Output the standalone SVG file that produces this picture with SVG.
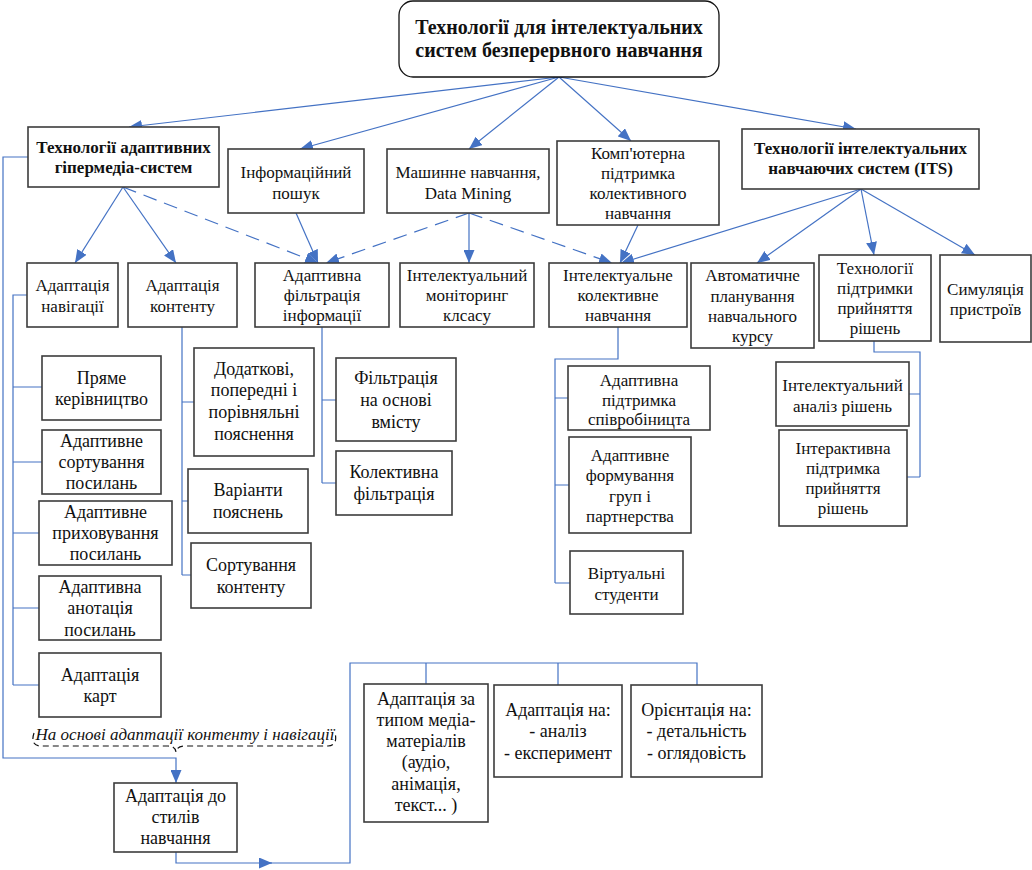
<svg xmlns="http://www.w3.org/2000/svg" width="1032" height="870" viewBox="0 0 1032 870">
<style>
.b{fill:#fff;stroke:#3c3c3c;stroke-width:1.6}
.r{fill:#fff;stroke:#111;stroke-width:1.3}
.t{font-family:"Liberation Serif","Times New Roman",serif;font-size:17px;fill:#111;text-anchor:middle}
.s{font-family:"Liberation Serif","Times New Roman",serif;font-size:18px;fill:#111;text-anchor:middle}
.tb{font-family:"Liberation Serif","Times New Roman",serif;font-size:17px;font-weight:bold;fill:#111;text-anchor:middle}
.tt{font-family:"Liberation Serif","Times New Roman",serif;font-size:20px;font-weight:bold;fill:#111;text-anchor:middle}
.ti{font-family:"Liberation Serif","Times New Roman",serif;font-size:17px;font-style:italic;fill:#111;text-anchor:middle}
.c{fill:none;stroke:#4472C4;stroke-width:1.2}
.ca{fill:none;stroke:#4472C4;stroke-width:1.2;marker-end:url(#ah)}
.cd{fill:none;stroke:#4472C4;stroke-width:1.2;stroke-dasharray:14,8;marker-end:url(#ah)}
.br{fill:none;stroke:#111;stroke-width:1.2;stroke-dasharray:6,4}
</style>
<defs>
<marker id="ah" markerUnits="userSpaceOnUse" markerWidth="13" markerHeight="11" refX="13" refY="5.5" orient="auto">
<path d="M0,0 L13,5.5 L0,11 z" fill="#4472C4"/>
</marker>
</defs>
<rect width="1032" height="870" fill="#fff"/>
<g id="connectors">
<path class="ca" d="M559,77 L129,127"/>
<path class="ca" d="M559,77 L300,149"/>
<path class="ca" d="M559,77 L469,149"/>
<path class="ca" d="M559,77 L631,141"/>
<path class="ca" d="M559,77 L856,129"/>
<path class="ca" d="M123,187 L75,263"/>
<path class="ca" d="M123,187 L176,263"/>
<path class="cd" d="M123,187 L318,263"/>
<path class="ca" d="M296,213 L318,263"/>
<path class="cd" d="M469,213 L326,263"/>
<path class="ca" d="M469,213 L469,263"/>
<path class="cd" d="M469,213 L612,263"/>
<path class="ca" d="M638,225 L620,263"/>
<path class="ca" d="M861,189 L621,263"/>
<path class="ca" d="M861,189 L757,263"/>
<path class="ca" d="M861,189 L874,255"/>
<path class="ca" d="M861,189 L975,255"/>
<path class="c" d="M27,295 H13 V685 M13,387 H42 M13,462 H42 M13,533 H39 M13,608 H39 M13,685 H39"/>
<path class="ca" d="M28,157 H3 V758 H176 V783"/>
<path class="c" d="M182,327 V575 M182,402 H194 M182,501 H188 M182,575 H191"/>
<path class="c" d="M322,327 V483 M322,400 H336 M322,483 H336"/>
<path class="c" d="M618,327 V359 H555 V583 M555,398 H568 M555,485 H569 M555,583 H570"/>
<path class="c" d="M874,341 V352 H920 V477 M920,394 H909 M920,477 H907"/>
<path class="ca" d="M176,852 V863 H272"/>
<path class="c" d="M268,863 H350 V663 H697 V685 M426,663 V684 M558,663 V685"/>
</g>
<g id="brace">
<path class="br" d="M34,733 Q30,745 40,746 H168 Q175,746 176,752 Q177,746 184,746 H328 Q338,745 335,733"/>
<text class="ti" x="185" y="740">На основі адаптації контенту і навігації</text>
</g>
<g id="root"><rect class="r" x="399" y="1" width="320" height="76" rx="14"/>
<text class="tt" x="559" y="34">Технології для інтелектуальних</text><text class="tt" x="559" y="57">систем безперервного навчання</text></g>
<g id="n_ahs"><rect class="b" x="28" y="127" width="191" height="60"/>
<text class="tb" x="123.5" y="153">Технології адаптивних</text><text class="tb" x="123.5" y="173">гіпермедіа-систем</text></g>
<g id="n_info"><rect class="b" x="228" y="149" width="136" height="64"/>
<text class="t" x="296" y="178">Інформаційний</text><text class="t" x="296" y="199">пошук</text></g>
<g id="n_ml"><rect class="b" x="387" y="149" width="162" height="64"/>
<text class="t" x="468" y="178">Машинне навчання,</text><text class="t" x="468" y="199">Data Mining</text></g>
<g id="n_comp"><rect class="b" x="557" y="141" width="162" height="84"/>
<text class="t" x="638" y="159">Комп'ютерна</text><text class="t" x="638" y="179">підтримка</text><text class="t" x="638" y="199">колективного</text><text class="t" x="638" y="219">навчання</text></g>
<g id="n_its"><rect class="b" x="742" y="129" width="237" height="60"/>
<text class="tb" x="860.5" y="154">Технології інтелектуальних</text><text class="tb" x="860.5" y="174">навчаючих систем (ITS)</text></g>
<g id="n_nav"><rect class="b" x="27" y="263" width="91" height="64"/>
<text class="t" x="72.5" y="291">Адаптація</text><text class="t" x="72.5" y="312">навігації</text></g>
<g id="n_cont"><rect class="b" x="128" y="263" width="109" height="64"/>
<text class="t" x="182.5" y="291">Адаптація</text><text class="t" x="182.5" y="312">контенту</text></g>
<g id="n_filt"><rect class="b" x="255" y="263" width="134" height="64"/>
<text class="t" x="322" y="281">Адаптивна</text><text class="t" x="322" y="301">фільтрація</text><text class="t" x="322" y="321">інформації</text></g>
<g id="n_mon"><rect class="b" x="400" y="263" width="134" height="64"/>
<text class="t" x="467" y="281">Інтелектуальний</text><text class="t" x="467" y="301">моніторинг</text><text class="t" x="467" y="321">клсасу</text></g>
<g id="n_coll"><rect class="b" x="549" y="263" width="138" height="64"/>
<text class="t" x="618" y="281">Інтелектуальне</text><text class="t" x="618" y="301">колективне</text><text class="t" x="618" y="321">навчання</text></g>
<g id="n_plan"><rect class="b" x="691" y="263" width="123" height="85"/>
<text class="t" x="752.5" y="281">Автоматичне</text><text class="t" x="752.5" y="302">планування</text><text class="t" x="752.5" y="322">навчального</text><text class="t" x="752.5" y="342">курсу</text></g>
<g id="n_dss"><rect class="b" x="819" y="255" width="112" height="86"/>
<text class="t" x="875" y="274">Технології</text><text class="t" x="875" y="294">підтримки</text><text class="t" x="875" y="314">прийняття</text><text class="t" x="875" y="334">рішень</text></g>
<g id="n_sim"><rect class="b" x="940" y="255" width="91" height="87"/>
<text class="t" x="985.5" y="295">Симуляція</text><text class="t" x="985.5" y="315">пристроїв</text></g>
<g id="n_direct"><rect class="b" x="42" y="356" width="119" height="64"/>
<text class="s" x="101.5" y="384">Пряме</text><text class="s" x="101.5" y="405">керівництво</text></g>
<g id="n_sort"><rect class="b" x="42" y="430" width="119" height="64"/>
<text class="s" x="101.5" y="447">Адаптивне</text><text class="s" x="101.5" y="468">сортування</text><text class="s" x="101.5" y="489">посилань</text></g>
<g id="n_hide"><rect class="b" x="39" y="501" width="133" height="64"/>
<text class="s" x="105.5" y="518">Адаптивне</text><text class="s" x="105.5" y="539">приховування</text><text class="s" x="105.5" y="560">посилань</text></g>
<g id="n_annot"><rect class="b" x="39" y="576" width="122" height="64"/>
<text class="s" x="100" y="593">Адаптивна</text><text class="s" x="100" y="614">анотація</text><text class="s" x="100" y="636">посилань</text></g>
<g id="n_maps"><rect class="b" x="39" y="653" width="122" height="64"/>
<text class="s" x="100" y="681">Адаптація</text><text class="s" x="100" y="702">карт</text></g>
<g id="n_expl"><rect class="b" x="194" y="348" width="120" height="108"/>
<text class="s" x="254" y="375">Додаткові,</text><text class="s" x="254" y="396">попередні і</text><text class="s" x="254" y="418">порівняльні</text><text class="s" x="254" y="440">пояснення</text></g>
<g id="n_var"><rect class="b" x="188" y="469" width="120" height="64"/>
<text class="s" x="248" y="496">Варіанти</text><text class="s" x="248" y="518">пояснень</text></g>
<g id="n_csort"><rect class="b" x="191" y="543" width="120" height="65"/>
<text class="s" x="251" y="571">Сортування</text><text class="s" x="251" y="593">контенту</text></g>
<g id="n_cbf"><rect class="b" x="336" y="358" width="120" height="83"/>
<text class="s" x="396" y="384">Фільтрація</text><text class="s" x="396" y="406">на основі</text><text class="s" x="396" y="428">вмісту</text></g>
<g id="n_cf"><rect class="b" x="336" y="451" width="116" height="64"/>
<text class="s" x="394" y="478">Колективна</text><text class="s" x="394" y="500">фільтрація</text></g>
<g id="n_coop"><rect class="b" x="568" y="366" width="142" height="64"/>
<text class="t" x="639" y="386">Адаптивна</text><text class="t" x="639" y="406">підтримка</text><text class="t" x="639" y="425">співробіницта</text></g>
<g id="n_groups"><rect class="b" x="569" y="437" width="122" height="96"/>
<text class="t" x="630" y="461">Адаптивне</text><text class="t" x="630" y="481">формування</text><text class="t" x="630" y="502">груп і</text><text class="t" x="630" y="522">партнерства</text></g>
<g id="n_virt"><rect class="b" x="570" y="551" width="113" height="63"/>
<text class="t" x="626.5" y="579">Віртуальні</text><text class="t" x="626.5" y="600">студенти</text></g>
<g id="n_anal"><rect class="b" x="776" y="362" width="133" height="64"/>
<text class="t" x="842.5" y="391">Інтелектуальний</text><text class="t" x="842.5" y="412">аналіз рішень</text></g>
<g id="n_inter"><rect class="b" x="779" y="430" width="128" height="96"/>
<text class="t" x="843" y="454">Інтерактивна</text><text class="t" x="843" y="474">підтримка</text><text class="t" x="843" y="494">прийняття</text><text class="t" x="843" y="514">рішень</text></g>
<g id="n_styles"><rect class="b" x="114" y="783" width="123" height="69"/>
<text class="s" x="175.5" y="802">Адаптація до</text><text class="s" x="175.5" y="823">стилів</text><text class="s" x="175.5" y="844">навчання</text></g>
<g id="n_media"><rect class="b" x="364" y="684" width="124" height="138"/>
<text class="s" x="426" y="705">Адаптація за</text><text class="s" x="426" y="726">типом медіа-</text><text class="s" x="426" y="747">матеріалів</text><text class="s" x="426" y="768">(аудіо,</text><text class="s" x="426" y="790">анімація,</text><text class="s" x="426" y="811">текст... )</text></g>
<g id="n_an"><rect class="b" x="494" y="685" width="128" height="92"/>
<text class="s" x="558" y="716">Адаптація на:</text><text class="s" x="558" y="737">- аналіз</text><text class="s" x="558" y="759">- експеримент</text></g>
<g id="n_or"><rect class="b" x="631" y="685" width="131" height="92"/>
<text class="s" x="696.5" y="716">Орієнтація на:</text><text class="s" x="696.5" y="737">- детальність</text><text class="s" x="696.5" y="759">- оглядовість</text></g>
</svg>
